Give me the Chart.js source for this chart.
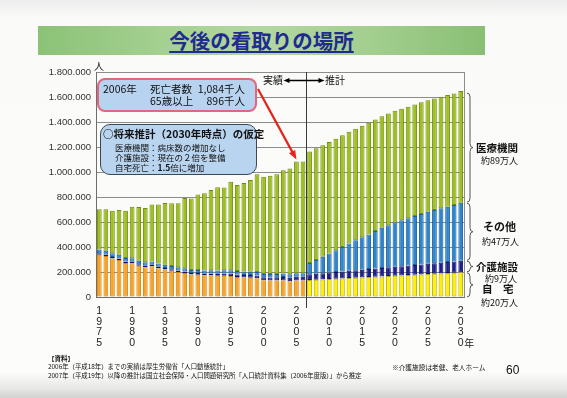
<!DOCTYPE html>
<html lang="ja">
<head>
<meta charset="utf-8">
<title>今後の看取りの場所</title>
<script src="https://cdn.jsdelivr.net/npm/chart.js@4.4.1/dist/chart.umd.min.js"></script>
<style>
html,body{margin:0;padding:0;}
body{width:567px;height:398px;overflow:hidden;background:#fff;}
#wrap{position:relative;width:567px;height:398px;overflow:hidden;
 background:linear-gradient(180deg,#ededed 0px,#fafaf8 18px,#fcfcfa 372px,#e8e8e6 388px,#d2d2d0 398px);
 font-family:"Noto Sans CJK JP","Liberation Sans",sans-serif;color:#111;}
#c{position:absolute;left:0;top:0;}
.a{position:absolute;white-space:nowrap;line-height:1;}
#banner{position:absolute;left:38px;top:26px;width:447px;height:29px;
 background:linear-gradient(90deg,#8cc278 0%,#a6d192 30%,#b3d8a0 50%,#a2ce8e 75%,#89bf74 100%);}
#title{position:absolute;left:0;top:0;width:447px;height:29px;line-height:29px;text-align:center;font-size:20.5px;font-weight:700;color:#1f2b8f;text-decoration:underline;text-underline-offset:2px;text-decoration-thickness:1.5px;}
.box{position:absolute;box-sizing:border-box;}
#box1{left:97px;top:78px;width:160px;height:34px;background:#b7d3f0;border:2px solid #e2667c;border-radius:8px;}
#box2{left:100px;top:124px;width:157px;height:51px;background:#b9d4ef;border:1.5px solid #3d4852;border-radius:10px;}
.b{font-weight:700;}
</style>
</head>
<body>
<div id="wrap">
  <div id="banner"><div id="title">今後の看取りの場所</div></div>
  <canvas id="c" width="567" height="398"></canvas>
  <div class="a" style="left:94px;top:61px;font-size:10px;">人</div>
  <div class="a" style="left:263px;top:75px;font-size:10px;">実績</div>
  <div class="a" style="left:325px;top:75px;font-size:10px;">推計</div>

  <div class="box" id="box1"></div>
  <div class="a" style="left:103px;top:83.8px;font-size:10.5px;">2006年</div>
  <div class="a" style="left:150px;top:83.8px;font-size:10.5px;">死亡者数</div>
  <div class="a" style="right:322px;top:83.8px;font-size:10.5px;">1,084千人</div>
  <div class="a" style="left:150px;top:95.8px;font-size:10.5px;">65歳以上</div>
  <div class="a" style="right:322px;top:95.8px;font-size:10.5px;">896千人</div>

  <div class="box" id="box2"></div>
  <div class="a b" style="left:103px;top:128.7px;font-size:10.5px;">○将来推計（2030年時点）の仮定</div>
  <div class="a" style="left:115px;top:142.7px;font-size:8.5px;">医療機関：病床数の増加なし</div>
  <div class="a" style="left:115px;top:152.7px;font-size:8.5px;">介護施設：現在の２倍を整備</div>
  <div class="a" style="left:115px;top:162.7px;font-size:8.5px;">自宅死亡：<b>1.5</b>倍に増加</div>

  <div class="a b" style="left:476px;top:142.7px;font-size:10.5px;">医療機関</div>
  <div class="a" style="left:481px;top:155.5px;font-size:9px;">約89万人</div>
  <div class="a b" style="left:483px;top:220.5px;font-size:11px;">その他</div>
  <div class="a" style="left:482px;top:236.5px;font-size:9px;">約47万人</div>
  <div class="a b" style="left:476px;top:261.7px;font-size:10.5px;">介護施設</div>
  <div class="a" style="left:485px;top:273.5px;font-size:9px;">約9万人</div>
  <div class="a b" style="left:482px;top:283.7px;font-size:10.5px;">自　宅</div>
  <div class="a" style="left:481px;top:297.5px;font-size:9px;">約20万人</div>

  <div class="a b" style="left:48px;top:354.8px;font-size:6.5px;">【資料】</div>
  <div class="a" style="left:48px;top:363.8px;font-size:6.4px;">2006年（平成18年）までの実績は厚生労働省「人口動態統計」</div>
  <div class="a" style="left:48px;top:372.8px;font-size:6.4px;">2007年（平成19年）以降の推計は国立社会保障・人口問題研究所「人口統計資料集（2006年度版）」から推定</div>
  <div class="a" style="left:392px;top:363.6px;font-size:6.7px;">※介護施設は老健、老人ホーム</div>
  <div class="a" style="left:506px;top:364px;font-size:12px;font-family:'Liberation Sans',sans-serif;">60</div>
</div>
<script>
// ---- data (thousands of persons) ----
const years = [1975,1976,1977,1978,1979,1980,1981,1982,1983,1984,1985,1986,1987,1988,1989,1990,1991,1992,1993,1994,1995,1996,1997,1998,1999,2000,2001,2002,2003,2004,2005,2006,
  2007,2008,2009,2010,2011,2012,2013,2014,2015,2016,2017,2018,2019,2020,2021,2022,2023,2024,2025,2026,2027,2028,2029,2030];
const lastActualYear = 2006;
const home = [338,328,309,297,272,270,250,238,246,230,220,210,200,192,180,178,172,172,170,170,169,161,156,154,150,134,132,132,133,127,132,132,
  136,139,141,144,147,149,152,155,157,160,163,165,168,171,173,176,179,181,184,187,189,192,195,198];
const nursing = [12,12,12,12,12,12,12,12,12,12,12,12,12,12,12,14,15,16,17,18,19,20,21,22,23,24,25,26,27,28,30,31,
  46,48,50,52,54,56,58,60,62,64,66,68,70,72,74,76,78,80,82,84,86,88,90,92];
const other = [30,30,30,29,29,28,28,28,27,27,27,26,26,26,25,25,25,26,26,26,27,27,27,27,27,27,27,27,28,28,28,28,
  90,109,131,152,173,196,219,240,259,277,299,322,337,353,367,379,391,404,416,426,435,442,451,465];
const medical = [322,333,339,358,377,413,430,434,455,471,493,503,513,563,572,603,618,643,666,662,707,688,709,733,782,777,786,797,827,846,894,893,
  893,894,893,892,893,894,893,892,893,894,893,892,893,894,893,892,893,894,893,892,893,894,893,893];
const xTickYears = [1975,1980,1985,1990,1995,2000,2005,2010,2015,2020,2025,2030];
const yTicks = [0,200000,400000,600000,800000,1000000,1200000,1400000,1600000,1800000];
const seriesNames = ['自宅','介護施設','その他','医療機関'];

const K = 1000;
const gridColor = '#8c8c8c';
const lastIdx = years.indexOf(lastActualYear);
const homeFill = years.map(y => y <= lastActualYear ? '#f8a327' : '#fff000');
const homeBorder = years.map(y => y <= lastActualYear ? '#cf8512' : '#b9ac00');

function arrowHead(ctx, x0, y0, x1, y1, len, wid){
  const a = Math.atan2(y1-y0, x1-x0);
  ctx.beginPath();
  ctx.moveTo(x1, y1);
  ctx.lineTo(x1 - len*Math.cos(a) + wid/2*Math.sin(a), y1 - len*Math.sin(a) - wid/2*Math.cos(a));
  ctx.lineTo(x1 - len*Math.cos(a) - wid/2*Math.sin(a), y1 - len*Math.sin(a) + wid/2*Math.cos(a));
  ctx.closePath();
  ctx.fill();
}
function brace(ctx, x, y0, y1, w){
  const mid = (y0+y1)/2, r = Math.min(4, (y1-y0)/4);
  ctx.beginPath();
  ctx.moveTo(x, y0);
  ctx.quadraticCurveTo(x+w, y0, x+w, y0+r);
  ctx.lineTo(x+w, mid-r);
  ctx.quadraticCurveTo(x+w, mid, x+2*w, mid);
  ctx.quadraticCurveTo(x+w, mid, x+w, mid+r);
  ctx.lineTo(x+w, y1-r);
  ctx.quadraticCurveTo(x+w, y1, x, y1);
  ctx.stroke();
}

const overlay = {
  id: 'overlay',
  afterDraw(chart){
    const ctx = chart.ctx, xs = chart.scales.x, ys = chart.scales.y, ca = chart.chartArea;
    ctx.save();
    // right frame
    ctx.strokeStyle = gridColor; ctx.lineWidth = 1;
    const rx = Math.round(ca.right) + 0.5;
    ctx.beginPath(); ctx.moveTo(rx, ca.top); ctx.lineTo(rx, ca.bottom); ctx.stroke();
    // actual / projection divider
    const dx = Math.round((xs.getPixelForValue(lastIdx) + xs.getPixelForValue(lastIdx+1))/2) + 0.5;
    ctx.strokeStyle = '#3a3a3a';
    ctx.beginPath(); ctx.moveTo(dx, ca.top); ctx.lineTo(dx, ca.bottom + 11); ctx.stroke();
    // double arrow
    const ay = 80.5;
    ctx.strokeStyle = '#000'; ctx.fillStyle = '#000'; ctx.lineWidth = 1.6;
    ctx.beginPath(); ctx.moveTo(dx-19, ay); ctx.lineTo(dx+14, ay); ctx.stroke();
    arrowHead(ctx, dx, ay, dx-23, ay, 6, 5);
    arrowHead(ctx, dx, ay, dx+18, ay, 6, 5);
    // red arrow from callout to 2005 bar
    const i05 = years.indexOf(2005);
    const tx = xs.getPixelForValue(i05), ty = ys.getPixelForValue((home[i05]+nursing[i05]+other[i05]+medical[i05])*K) - 2;
    ctx.strokeStyle = '#e5231b'; ctx.fillStyle = '#e5231b'; ctx.lineWidth = 2.2;
    const sx = 258, sy = 89;
    const ang = Math.atan2(ty-sy, tx-sx);
    ctx.beginPath(); ctx.moveTo(sx, sy); ctx.lineTo(tx - 7*Math.cos(ang), ty - 7*Math.sin(ang)); ctx.stroke();
    arrowHead(ctx, sx, sy, tx, ty, 9, 7);
    // braces for 2030 composition
    const n = years.length - 1;
    const c1 = home[n]*K, c2 = c1 + nursing[n]*K, c3 = c2 + other[n]*K, c4 = c3 + medical[n]*K;
    ctx.strokeStyle = '#555'; ctx.lineWidth = 1;
    const bx = ca.right + 3;
    brace(ctx, bx, ys.getPixelForValue(c4)+2, ys.getPixelForValue(c3)-0.5, 3);
    brace(ctx, bx, ys.getPixelForValue(c3)+0.5, ys.getPixelForValue(c2)-0.5, 3);
    brace(ctx, bx, ys.getPixelForValue(c2)+0.5, ys.getPixelForValue(c1)-0.5, 3);
    brace(ctx, bx, ys.getPixelForValue(c1)+0.5, ys.getPixelForValue(0), 3);
    // 年 after the last x label
    ctx.fillStyle = '#222';
    ctx.font = '10px "Noto Sans CJK JP"';
    ctx.textAlign = 'left'; ctx.textBaseline = 'middle';
    ctx.fillText('年', xs.getPixelForValue(n) + 3.5, xs.top + 9 + 3.5*10.5);
    ctx.restore();
  }
};

const ds = (label, vals, bg, bc) => ({
  label, data: vals.map(v => v*K), backgroundColor: bg, borderColor: bc,
  borderWidth: 1, borderSkipped: false, barPercentage: 0.72, categoryPercentage: 1.0
});

new Chart(document.getElementById('c'), {
  type: 'bar',
  data: {
    labels: years,
    datasets: [
      ds(seriesNames[0], home, homeFill, homeBorder),
      ds(seriesNames[1], nursing, '#1b1f8f', '#12146a'),
      ds(seriesNames[2], other, '#2b85cf', '#1c5e9c'),
      ds(seriesNames[3], medical, '#9dc01e', '#718d0f')
    ]
  },
  options: {
    responsive: false, animation: false, devicePixelRatio: 1,
    layout: { padding: { left: 0, top: 72, right: 103, bottom: 51 } },
    plugins: { legend: { display: false }, tooltip: { enabled: false } },
    scales: {
      x: {
        stacked: true,
        grid: { display: false, drawTicks: false },
        border: { display: true, color: '#6e6e6e', width: 1 },
        afterFit: s => { s.height = 50; },
        ticks: {
          autoSkip: false, maxRotation: 0, minRotation: 0, padding: 9,
          color: '#222', font: { family: 'Liberation Sans', size: 10.5, lineHeight: 1.0 },
          callback: (v, i) => xTickYears.includes(years[i]) ? String(years[i]).split('') : ''
        }
      },
      y: {
        stacked: true, min: 0, max: 1800000,
        afterFit: s => { s.width = 96; },
        afterBuildTicks: s => { s.ticks = yTicks.map(v => ({ value: v })); },
        grid: { color: gridColor, lineWidth: 1, drawTicks: false },
        border: { display: true, color: '#6e6e6e', width: 1 },
        ticks: {
          padding: 5, color: '#333', font: { family: 'Liberation Sans', size: 9.5 },
          callback: v => Number(v).toLocaleString('en-US').replace(/,/g, '.')
        }
      }
    }
  },
  plugins: [overlay]
});
</script>
</body>
</html>
